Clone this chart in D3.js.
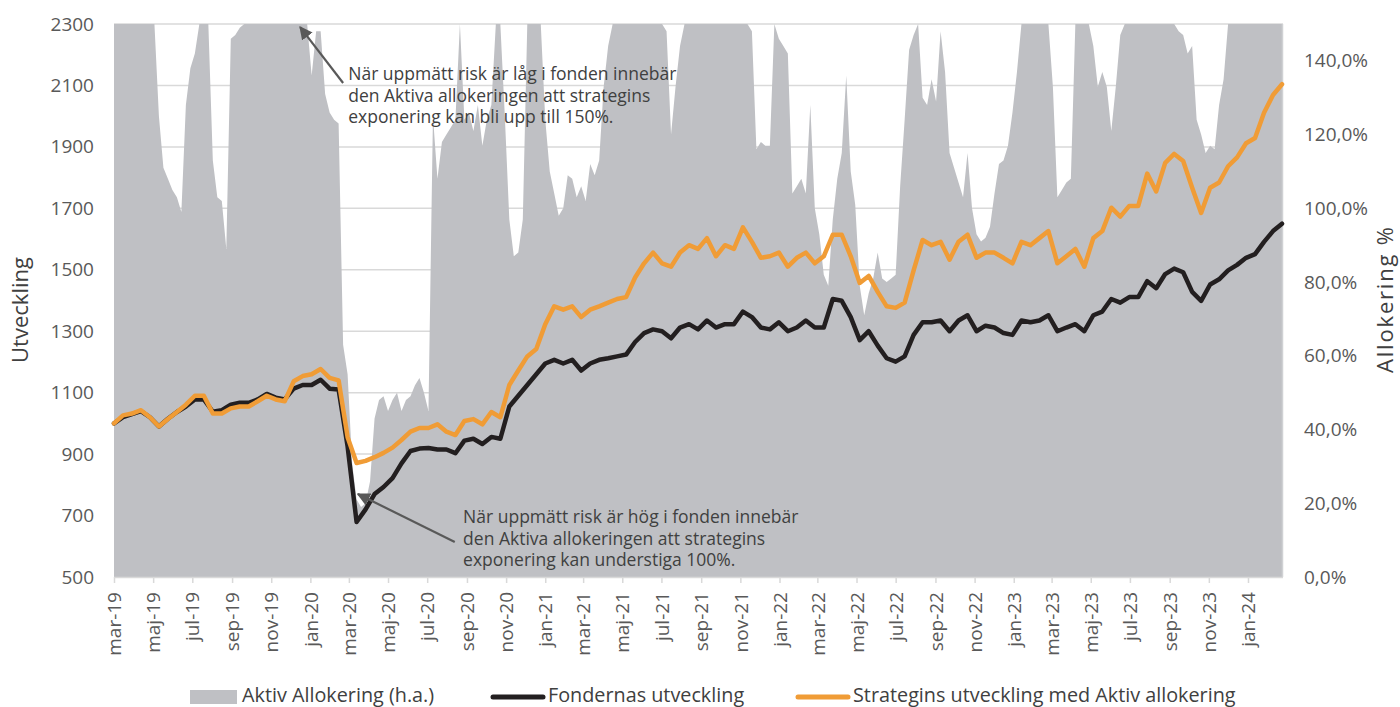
<!DOCTYPE html>
<html><head><meta charset="utf-8">
<script src="https://cdn.jsdelivr.net/npm/d3@7"></script>
<style>
body{margin:0;background:#fff}
svg{display:block}
text{font-family:"Open Sans",sans-serif}
</style>
</head><body>
<svg id="chart" width="1400" height="707"></svg>
<script>
// ---- data ----
const startDate = "2019-03-01";
const lineStepDays = 14;   // line series: biweekly observations
const areaStepDays = 7;    // allocation: weekly observations

const strategyValues = [
1000,1026,1032,1043,1020,990,1014,1037,1061,1090,1090,1032,1032,1049,1055,1055,1072,1090,1078,1072,
1137,1154,1160,1177,1148,1140,955,871,878,890,904,921,946,973,985,985,997,973,962,1008,
1014,997,1037,1020,1125,1172,1218,1242,1323,1381,1370,1381,1346,1370,1381,1393,1405,1411,1475,1521,
1556,1521,1510,1556,1580,1568,1603,1544,1580,1568,1638,1591,1539,1544,1556,1510,1539,1556,1521,1544,
1614,1614,1544,1457,1480,1428,1381,1376,1393,1498,1597,1580,1591,1533,1591,1614,1539,1556,1556,1539,
1521,1591,1580,1603,1626,1521,1544,1568,1510,1603,1626,1702,1673,1708,1708,1813,1755,1848,1877,1854,
1767,1685,1767,1784,1837,1866,1912,1929,2011,2069,2104];

const fundValues = [
1000,1020,1030,1040,1020,990,1015,1037,1055,1078,1078,1038,1043,1061,1067,1067,1078,1096,1084,1078,
1113,1125,1125,1142,1113,1110,925,679,720,770,793,822,870,910,918,920,915,915,903,944,
950,933,956,950,1055,1090,1125,1160,1195,1207,1195,1207,1172,1195,1207,1212,1218,1224,1265,1294,
1306,1300,1277,1312,1323,1306,1335,1312,1323,1323,1364,1346,1312,1306,1329,1300,1312,1335,1312,1312,
1405,1399,1346,1271,1300,1253,1212,1201,1218,1288,1329,1329,1335,1300,1335,1352,1300,1318,1312,1294,
1288,1335,1329,1335,1352,1300,1312,1323,1300,1352,1364,1405,1393,1411,1411,1463,1440,1486,1504,1492,
1428,1399,1452,1469,1498,1516,1539,1551,1591,1626,1650];

const allocationValues = [
150,150,150,150,150,150,150,150,150,150,
125,111,108,105,103,99,128,138,142,150,150,150,113,103,102,89,146,147,149,
150,150,150,150,150,150,150,150,150,150,150,150,150,150,150,
136,148,148,131,126,124,123,63,55,31,21,19,20,26,43,48,49,45,48,50,45,48,49,52,54,50,45,
125,108,118,120,122,124,150,124,126,121,128,117,124,128,150,150,125,97,87,88,97,
150,150,150,150,
124,110,104,98,100,109,108,103,106,102,112,109,113,133,144,
150,150,150,150,150,150,150,150,150,150,150,150,
148,120,133,144,
150,150,150,150,150,150,150,150,150,150,150,150,150,150,150,
148,116,118,117,117,150,146,144,142,104,106,108,104,128,100,93,82,79,97,108,
115,136,110,101,79,71,77,81,88,81,80,81,82,106,124,143,147,150,130,128,
135,129,148,137,115,111,107,103,115,100,93,91,92,95,104,112,113,117,126,137,
150,150,150,150,150,150,150,
133,103,105,107,108,
150,150,150,150,
144,133,137,133,121,133,147,
150,150,150,150,150,150,150,150,150,150,150,150,
148,147,142,144,124,120,115,117,116,128,135,
150,150,150,150,150,150,150,150,150,150,150,150,150];

const leftTicks = [500,700,900,1100,1300,1500,1700,1900,2100,2300];
const rightTicks = [0,20,40,60,80,100,120,140];
const monthTickLabels = ["mar-19","maj-19","jul-19","sep-19","nov-19","jan-20","mar-20","maj-20","jul-20","sep-20",
"nov-20","jan-21","mar-21","maj-21","jul-21","sep-21","nov-21","jan-22","mar-22","maj-22","jul-22","sep-22",
"nov-22","jan-23","mar-23","maj-23","jul-23","sep-23","nov-23","jan-24"];

const seriesNames = ["Aktiv Allokering (h.a.)","Fondernas utveckling","Strategins utveckling med Aktiv allokering"];

const annotations = [
  {lines:["När uppmätt risk är låg i fonden innebär","den Aktiva allokeringen att strategins","exponering kan bli upp till 150%."],
   textDate:"2020-02-29", textValue:2137, tailDate:"2020-02-21", tailValue:2108, tipDate:"2019-12-16", tipValue:2290},
  {lines:["När uppmätt risk är hög i fonden innebär","den Aktiva allokeringen att strategins","exponering kan understiga 100%."],
   textDate:"2020-08-26", textValue:695, tailDate:"2020-08-13", tailValue:614, tipDate:"2020-03-15", tipValue:770}
];

// ---- setup ----
const parse = d3.utcParse("%Y-%m-%d");
const t0 = parse(startDate);
const lineRows = strategyValues.map((v, i) => ({date: d3.utcDay.offset(t0, i * lineStepDays), s: v, f: fundValues[i]}));
const areaRows = allocationValues.map((v, j) => ({date: d3.utcDay.offset(t0, j * areaStepDays), a: v}));
const tEnd = d3.max([lineRows[lineRows.length - 1].date, areaRows[areaRows.length - 1].date]);

const L = 114, R = 1282, T = 24, B = 577;
const x = d3.scaleUtc().domain([t0, tEnd]).range([L, R]);
const yL = d3.scaleLinear().domain([500, 2300]).range([B, T]);
const yR = d3.scaleLinear().domain([0, 150]).range([B, T]);

const svg = d3.select("#chart");
const textCol = "#595959";
const gray = "#bfc0c4";

// gridlines
svg.append("g").selectAll("line").data(leftTicks).join("line")
  .attr("x1", L).attr("x2", R + 1).attr("y1", d => yL(d)).attr("y2", d => yL(d))
  .attr("stroke", "#d9d9d9").attr("stroke-width", 1.5);

// area
svg.append("path").datum(areaRows)
  .attr("fill", gray)
  .attr("d", d3.area().x(d => x(d.date)).y0(yR(0)).y1(d => yR(d.a)));

// right edge line
svg.append("line").attr("x1", R + 0.5).attr("x2", R + 0.5).attr("y1", T).attr("y2", B)
  .attr("stroke", "#d0d1d4").attr("stroke-width", 1.5);

// x axis
const tickDates = monthTickLabels.map((_, i) => d3.utcMonth.offset(t0, i * 2));
const xAxis = d3.axisBottom(x).tickValues(tickDates).tickSize(6)
  .tickFormat((d, i) => monthTickLabels[i]);
const gx = svg.append("g").attr("transform", `translate(0,${B})`).call(xAxis);
gx.select(".domain").attr("stroke", "#d9d9d9").attr("stroke-width", 1.5).attr("d", `M${L},0.5H${R + 1}`);
gx.selectAll(".tick line").attr("stroke", "#d9d9d9").attr("stroke-width", 1.5);
gx.selectAll(".tick text")
  .attr("fill", textCol).attr("font-size", 19)
  .attr("transform", "rotate(-90)")
  .attr("text-anchor", "end").attr("x", -15).attr("y", 0).attr("dy", "0.35em");

// left axis
const gyL = svg.append("g").attr("transform", `translate(${L},0)`)
  .call(d3.axisLeft(yL).tickValues(leftTicks).tickSize(0).tickPadding(20).tickFormat(d3.format("d")));
gyL.select(".domain").remove();
gyL.selectAll("text").attr("fill", textCol).attr("font-size", 19);

// right axis
const gyR = svg.append("g").attr("transform", `translate(${R},0)`)
  .call(d3.axisRight(yR).tickValues(rightTicks).tickSize(0).tickPadding(22)
    .tickFormat(d => d3.format(".1f")(d).replace(".", ",") + "%"));
gyR.select(".domain").remove();
gyR.selectAll("text").attr("fill", textCol).attr("font-size", 19);

// axis titles
svg.append("text").attr("transform", `translate(20,310) rotate(-90)`)
  .attr("text-anchor", "middle").attr("fill", "#404040").attr("font-size", 22).attr("dy", "0.35em")
  .text("Utveckling");
svg.append("text").attr("transform", `translate(1385,300) rotate(-90)`)
  .attr("text-anchor", "middle").attr("fill", "#404040").attr("font-size", 22).attr("dy", "0.35em")
  .attr("textLength", 146).attr("lengthAdjust", "spacing")
  .text("Allokering %");

// lines
const line = key => d3.line().x(d => x(d.date)).y(d => yL(d[key]));
svg.append("path").datum(lineRows).attr("fill", "none").attr("stroke", "#231f20")
  .attr("stroke-width", 4.5).attr("stroke-linejoin", "round").attr("stroke-linecap", "round")
  .attr("d", line("f"));
svg.append("path").datum(lineRows).attr("fill", "none").attr("stroke", "#f09c36")
  .attr("stroke-width", 4.5).attr("stroke-linejoin", "round").attr("stroke-linecap", "round")
  .attr("d", line("s"));

// annotations
const defs = svg.append("defs");
defs.append("marker").attr("id", "arrow").attr("viewBox", "0 0 10 10")
  .attr("refX", 9).attr("refY", 5).attr("markerWidth", 6).attr("markerHeight", 6)
  .attr("markerUnits", "strokeWidth").attr("orient", "auto")
  .append("path").attr("d", "M0,0L10,5L0,10z").attr("fill", "#595959");

annotations.forEach(a => {
  svg.append("line")
    .attr("x1", x(parse(a.tailDate))).attr("y1", yL(a.tailValue))
    .attr("x2", x(parse(a.tipDate))).attr("y2", yL(a.tipValue))
    .attr("stroke", "#595959").attr("stroke-width", 2.2).attr("marker-end", "url(#arrow)");
  const t = svg.append("text").attr("x", x(parse(a.textDate))).attr("y", yL(a.textValue))
    .attr("fill", "#404040").attr("font-size", 17.5);
  a.lines.forEach((ln, i) => {
    t.append("tspan").attr("x", x(parse(a.textDate))).attr("dy", i === 0 ? "0.35em" : 21.3).text(ln);
  });
});

// legend
const lg = svg.append("g").attr("transform", "translate(0,697)");
lg.append("rect").attr("x", 190).attr("y", -7).attr("width", 47).attr("height", 14).attr("fill", gray);
lg.append("text").attr("x", 242).attr("y", 4.5).attr("font-size", 19.8).attr("fill", "#404040").text(seriesNames[0]);
lg.append("line").attr("x1", 493).attr("x2", 543).attr("stroke", "#231f20").attr("stroke-width", 5).attr("stroke-linecap", "round");
lg.append("text").attr("x", 548).attr("y", 4.5).attr("font-size", 19.8).attr("fill", "#404040").text(seriesNames[1]);
lg.append("line").attr("x1", 798).attr("x2", 848).attr("stroke", "#f09c36").attr("stroke-width", 5).attr("stroke-linecap", "round");
lg.append("text").attr("x", 853).attr("y", 4.5).attr("font-size", 19.8).attr("fill", "#404040").text(seriesNames[2]);
</script>
</body></html>
